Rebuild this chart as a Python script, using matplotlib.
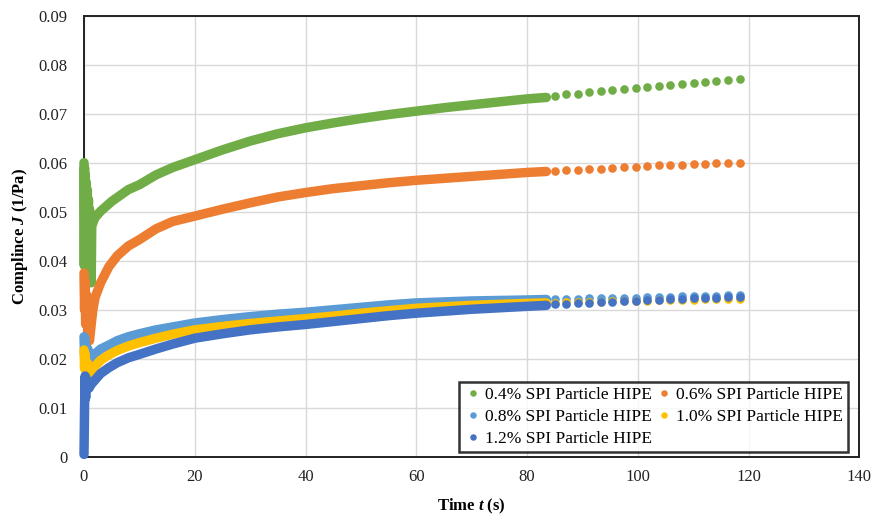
import matplotlib
matplotlib.use("Agg")
import matplotlib.pyplot as plt

plt.rcParams['font.family'] = ['Liberation Serif', 'DejaVu Serif']
plt.rcParams['mathtext.fontset'] = 'custom'
plt.rcParams['mathtext.rm'] = 'Liberation Serif'
plt.rcParams['mathtext.it'] = 'Liberation Serif:italic'
plt.rcParams['mathtext.bf'] = 'Liberation Serif:bold'
plt.rcParams['mathtext.bfit'] = 'Liberation Serif:bold:italic'

# series labels and colours
labels = ["0.4% SPI Particle HIPE", "0.6% SPI Particle HIPE", "0.8% SPI Particle HIPE",
          "1.0% SPI Particle HIPE", "1.2% SPI Particle HIPE"]
colors = ["#70AD47", "#ED7D31", "#5B9BD5", "#FFC000", "#4472C4"]

# dense part of the recording (0 - 83.5 s)
t_green = [0, 0.05, 0.1, 0.15, 0.2, 0.3, 0.4, 0.5, 0.6, 0.7, 0.8, 0.9, 1.0, 1.1, 1.2, 1.3, 1.4,
           1.7, 2, 3, 5, 8, 10, 13, 16,
           20, 25, 30, 35, 40, 45, 50, 55, 60, 65, 70, 75, 80, 83.5]
j_green = [0.0600, 0.0390, 0.0590, 0.0400, 0.0575, 0.0410, 0.0560, 0.0420, 0.0545, 0.0400, 0.0525,
           0.0390, 0.0505, 0.0370, 0.0485, 0.0355, 0.0470,
           0.0480, 0.0488, 0.0501, 0.0521, 0.0545, 0.0555, 0.0575, 0.0590,
           0.0606, 0.0626, 0.0644, 0.0659, 0.0671, 0.0681, 0.0690, 0.0698, 0.0705, 0.0712,
           0.0718, 0.0724, 0.0730, 0.0733]

t_orange = [0, 0.1, 0.2, 0.3, 0.5, 0.7, 1.0, 1.3, 1.6, 2, 3, 4.5, 6, 8, 10, 13, 16, 20, 25, 30,
            35, 40, 45, 50, 55, 60, 65, 70, 75, 80, 83.5]
j_orange = [0.0375, 0.0300, 0.0360, 0.0270, 0.0330, 0.0250, 0.0237, 0.0270, 0.0300, 0.0325, 0.0355,
            0.0388, 0.0410, 0.0430, 0.0443, 0.0465, 0.0480, 0.0491, 0.0505, 0.0518,
            0.0530, 0.0539, 0.0547, 0.0553, 0.0559, 0.0564, 0.0568, 0.0572, 0.0576, 0.0580, 0.0582]

t_low = [0, 0.1, 0.2, 0.4, 0.7, 1.0, 1.5, 2, 3, 4.5, 6, 8, 10, 13, 16, 20, 25, 30, 35, 40,
         45, 50, 55, 60, 65, 70, 75, 80, 83.5]
j_lblue = [0.0245, 0.0210, 0.0240, 0.0200, 0.0220, 0.0190, 0.0200, 0.0210, 0.0220, 0.0228, 0.0237,
           0.0245, 0.0251, 0.0259, 0.0265, 0.0273, 0.0280, 0.0286, 0.0291, 0.0295,
           0.0300, 0.0305, 0.0310, 0.0314, 0.0316, 0.0318, 0.0319, 0.0320, 0.0321]
j_yellow = [0.0218, 0.0180, 0.0210, 0.0175, 0.0190, 0.0165, 0.0175, 0.0185, 0.0197, 0.0208, 0.0217,
            0.0226, 0.0233, 0.0242, 0.0250, 0.0259, 0.0266, 0.0272, 0.0277, 0.0282,
            0.0287, 0.0293, 0.0298, 0.0303, 0.0306, 0.0309, 0.0311, 0.0313, 0.0314]

t_dblue = [0, 0.05, 0.1, 0.2, 0.3, 0.4, 0.6, 0.9, 1.3, 2, 3, 4.5, 6, 8, 10, 13, 16, 20, 25,
           30, 35, 40, 45, 50, 55, 60, 65, 70, 75, 80, 83.5]
j_dblue = [0.0005, 0.0050, 0.0100, 0.0165, 0.0120, 0.0160, 0.0145, 0.0140, 0.0148, 0.0157,
           0.0170, 0.0182, 0.0192, 0.0202, 0.0209, 0.0220, 0.0230, 0.0242, 0.0251,
           0.0259, 0.0265, 0.0270, 0.0276, 0.0282, 0.0288, 0.0293, 0.0297, 0.0301, 0.0304,
           0.0307, 0.0309]

# sparse tail (about every 2 s)
t_tail = [85.0, 87.1, 89.2, 91.2, 93.3, 95.4, 97.5, 99.6, 101.7, 103.8, 105.9, 108.0,
          110.1, 112.2, 114.2, 116.3, 118.4]
tail_green = [0.0735, 0.0739, 0.0741, 0.0744, 0.0746, 0.0748, 0.0750, 0.0752, 0.0754,
              0.0757, 0.0759, 0.0761, 0.0763, 0.0765, 0.0767, 0.0769, 0.0771]
tail_orange = [0.0582, 0.0584, 0.0586, 0.0587, 0.0588, 0.0590, 0.0591, 0.0592, 0.0593,
               0.0595, 0.0595, 0.0596, 0.0597, 0.0598, 0.0599, 0.0599, 0.0600]
tail_lblue = [0.0321, 0.0322, 0.0322, 0.0323, 0.0324, 0.0324, 0.0325, 0.0325, 0.0326,
              0.0327, 0.0327, 0.0328, 0.0328, 0.0329, 0.0329, 0.0330, 0.0330]
tail_yellow = [0.0314, 0.0315, 0.0315, 0.0316, 0.0316, 0.0317, 0.0317, 0.0318, 0.0318,
               0.0319, 0.0319, 0.0320, 0.0320, 0.0321, 0.0321, 0.0322, 0.0322]
tail_dblue = [0.0311, 0.0312, 0.0313, 0.0314, 0.0315, 0.0316, 0.0317, 0.0318, 0.0319,
              0.0320, 0.0321, 0.0322, 0.0323, 0.0324, 0.0325, 0.0326, 0.0327]

dense = [(t_green, j_green), (t_orange, j_orange), (t_low, j_lblue), (t_low, j_yellow), (t_dblue, j_dblue)]
tails = [tail_green, tail_orange, tail_lblue, tail_yellow, tail_dblue]

fig = plt.figure(figsize=(8.75, 5.18), dpi=100)
ax = fig.add_axes([0.096, 0.118, 0.886, 0.852])

handles = []
for (t, j), tail, c, lab in zip(dense, tails, colors, labels):
    # dense samples overlap into a solid band (drawn over the axis line, not clipped)
    ax.plot(t, j, '-', color=c, lw=6.8, solid_capstyle='round', solid_joinstyle='round',
            clip_on=False, zorder=3)
    h, = ax.plot(t_tail, tail, 'o', color=c, ms=6.2, mew=0, label=lab, zorder=3)
    handles.append(h)

ax.set_xlim(0, 140)
ax.set_ylim(0, 0.09)
ax.set_xticks(range(0, 141, 20))
ax.set_yticks([0, 0.01, 0.02, 0.03, 0.04, 0.05, 0.06, 0.07, 0.08, 0.09])
ax.set_yticklabels(["0", "0.01", "0.02", "0.03", "0.04", "0.05", "0.06", "0.07", "0.08", "0.09"])
ax.grid(True, color="#d9d9d9", lw=1.0)
ax.set_axisbelow(True)
ax.tick_params(length=0, labelsize=12, colors="#222222")
ax.tick_params(axis='y', pad=12)
ax.tick_params(axis='x', pad=9)
for s in ax.spines.values():
    s.set_color("#222222")
    s.set_linewidth(1.4)
    s.set_zorder(2.5)

ax.set_xlabel(r"Time $\mathbfit{t}$ (s)", fontsize=12, fontweight='bold', labelpad=8)
ax.set_ylabel(r"Complince $\mathbfit{J}$ (1/Pa)", fontsize=12, fontweight='bold', labelpad=6)

# legend reads row by row: 0.4 | 0.6 / 0.8 | 1.0 / 1.2
order = [0, 2, 4, 1, 3]
leg = ax.legend([handles[i] for i in order], [labels[i] for i in order],
                loc='lower right', bbox_to_anchor=(0.986, 0.011), borderaxespad=0,
                ncol=2, fontsize=12.5,
                frameon=True, fancybox=False, handletextpad=0.2, columnspacing=0.2,
                handlelength=1.0, borderpad=0.3, labelspacing=0.33, markerscale=0.75)
leg.get_frame().set_edgecolor("black")
leg.get_frame().set_linewidth(1.8)
leg.set_zorder(5)

fig.savefig("out.png", dpi=100)
